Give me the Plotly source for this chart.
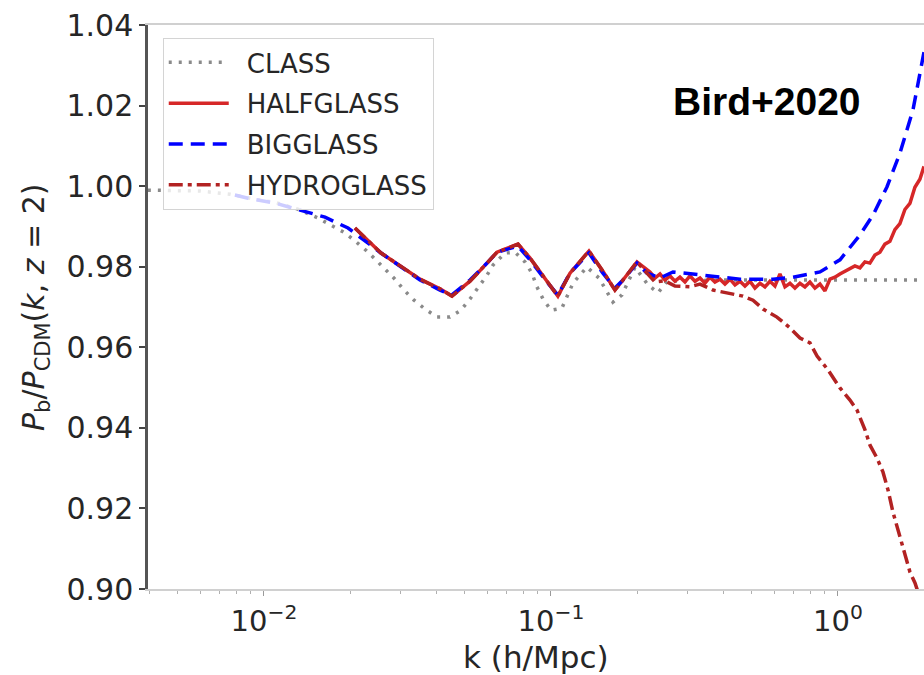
import plotly.graph_objects as go

# ---------------- data ----------------
class_k = [0.00394, 0.00424, 0.00598, 0.00762, 0.00969, 0.01092, 0.01312, 0.01542, 0.01726,
           0.01915, 0.02075, 0.02266, 0.02455, 0.02661, 0.02860, 0.03076, 0.03332, 0.03640,
           0.04008, 0.04446, 0.04855, 0.05222, 0.05568, 0.05988, 0.06283, 0.06918, 0.07494,
           0.08117, 0.08583, 0.08935, 0.09380, 0.1000, 0.1091, 0.1136, 0.1193, 0.1334, 0.1469,
           0.1555, 0.1644, 0.1768, 0.1963, 0.2178, 0.2360, 0.2537, 0.40, 0.80, 1.30, 2.10]
class_v = [0.9990, 0.9990, 0.9988, 0.9980, 0.9965, 0.9960, 0.9943, 0.9921, 0.9903,
           0.9884, 0.9864, 0.9841, 0.9817, 0.9792, 0.9769, 0.9742, 0.9717, 0.9695,
           0.9675, 0.9675, 0.9692, 0.9720, 0.9747, 0.9779, 0.9804, 0.9834, 0.9836,
           0.9812, 0.9784, 0.9750, 0.9720, 0.9692, 0.9697, 0.9727, 0.9759, 0.9799, 0.9772,
           0.9742, 0.9712, 0.9730, 0.9799, 0.9755, 0.9735, 0.9764, 0.9767, 0.9767, 0.9767, 0.9767]

half_k = [0.02075, 0.02558, 0.03497, 0.04105, 0.04518, 0.05222, 0.05988, 0.06486, 0.07678,
          0.08446, 0.09684, 0.1057, 0.1165, 0.1356, 0.1517, 0.1671, 0.1782, 0.1994,
          0.2213, 0.2304, 0.2398, 0.2496, 0.2598, 0.2704, 0.2815, 0.2930, 0.3050, 0.3175,
          0.3305, 0.3440, 0.3581, 0.3727, 0.3880, 0.4039, 0.4204, 0.4376, 0.4555, 0.4741,
          0.4935, 0.5137, 0.5347, 0.5566, 0.5794, 0.6031, 0.6278, 0.6535, 0.6802, 0.7080,
          0.7370, 0.7671, 0.7985, 0.8312, 0.8652, 0.9006, 0.9374, 0.9758, 1.0157, 1.0573,
          1.1005, 1.1455, 1.1924, 1.2412, 1.2920, 1.3449, 1.3999, 1.4572, 1.5168, 1.5789,
          1.6435, 1.7107, 1.7807, 1.8536, 1.9294, 1.994]
half_v = [0.9896, 0.9834, 0.9769, 0.9745, 0.9727, 0.9764, 0.9809, 0.9836, 0.9856,
          0.9822, 0.9764, 0.9727, 0.9784, 0.9839, 0.9789, 0.9742, 0.9767, 0.9812,
          0.9787, 0.9772, 0.9782, 0.9767, 0.9777, 0.9764, 0.9774, 0.9762, 0.9777, 0.9764,
          0.9772, 0.9759, 0.9774, 0.9762, 0.9769, 0.9757, 0.9769, 0.9755, 0.9764, 0.9752,
          0.9764, 0.9747, 0.9759, 0.9750, 0.9764, 0.9752, 0.9782, 0.9750, 0.9759, 0.9747,
          0.9759, 0.9750, 0.9762, 0.9747, 0.9757, 0.9740, 0.9769, 0.9774, 0.9782, 0.9789,
          0.9794, 0.9802, 0.9797, 0.9812, 0.9809, 0.9829, 0.9836, 0.9856, 0.9863, 0.9892,
          0.9907, 0.9942, 0.9957, 0.9997, 1.0017, 1.0049]

big_k = [0.00792, 0.00880, 0.01092, 0.01312, 0.01632, 0.01963, 0.02558, 0.03497, 0.04105,
         0.04518, 0.05222, 0.05988, 0.06486, 0.07678, 0.08446, 0.09684, 0.1057, 0.1165,
         0.1356, 0.1517, 0.1671, 0.1782, 0.1994, 0.2160, 0.2398, 0.2661, 0.3497, 0.4556,
         0.5940, 0.6966, 0.8657, 1.016, 1.193, 1.324, 1.481, 1.644, 1.825, 1.994]
big_v = [0.9978, 0.9970, 0.9958, 0.9941, 0.9923, 0.9896, 0.9834, 0.9767, 0.9742,
         0.9730, 0.9767, 0.9809, 0.9836, 0.9851, 0.9817, 0.9762, 0.9730, 0.9784,
         0.9834, 0.9784, 0.9747, 0.9767, 0.9809, 0.9784, 0.9772, 0.9787, 0.9777, 0.9769,
         0.9769, 0.9774, 0.9787, 0.9817, 0.9879, 0.9928, 0.9998, 1.0082, 1.0189, 1.0333]

hydro_k = [0.02075, 0.02558, 0.03497, 0.04105, 0.04518, 0.05222, 0.05988, 0.06486, 0.07678,
           0.08446, 0.09684, 0.1057, 0.1165, 0.1356, 0.1517, 0.1671, 0.1782, 0.1994,
           0.2160, 0.2304, 0.2495, 0.2705, 0.3050, 0.3305, 0.3668, 0.4104, 0.4667, 0.5056,
           0.5479, 0.6127, 0.6805, 0.7373, 0.7987, 0.8455, 0.9231, 1.016, 1.101, 1.165,
           1.242, 1.293, 1.3677, 1.435, 1.4937, 1.554, 1.6187, 1.671, 1.7254, 1.7817,
           1.855, 1.9152]
hydro_v = [0.9896, 0.9834, 0.9769, 0.9745, 0.9727, 0.9764, 0.9809, 0.9836, 0.9856,
           0.9822, 0.9764, 0.9727, 0.9784, 0.9839, 0.9789, 0.9742, 0.9767, 0.9812,
           0.9784, 0.9762, 0.9765, 0.9752, 0.9750, 0.9757, 0.9742, 0.9735, 0.9727, 0.9717,
           0.9695, 0.9675, 0.9648, 0.9623, 0.9611, 0.9578, 0.9544, 0.9499, 0.9469, 0.9444,
           0.9395, 0.9357, 0.9325, 0.9290, 0.9246, 0.9191, 0.9146, 0.9107, 0.9072, 0.9042,
           0.9015, 0.8985]

series_names = ["CLASS", "HALFGLASS", "BIGGLASS", "HYDROGLASS"]
y_ticks = [0.90, 0.92, 0.94, 0.96, 0.98, 1.00, 1.02, 1.04]
x_ticks = [0.01, 0.1, 1.0]
x_ticktext = ["10<sup>\u22122</sup>", "10<sup>\u22121</sup>", "10<sup>0</sup>"]
x_minor = [m * 10.0 ** e for e in (-3, -2, -1, 0) for m in range(2, 10)]

FONT = "DejaVu Sans"

fig = go.Figure()
styles = [
    dict(color="#8a8a8a", width=3.5, dash="3px,7px"),
    dict(color="#d62728", width=3.5, dash="solid"),
    dict(color="#0000ff", width=3.5, dash="14px,8px"),
    dict(color="#b22222", width=3.5, dash="14px,5px,4px,5px"),
]
data = [(class_k, class_v), (half_k, half_v), (big_k, big_v), (hydro_k, hydro_v)]
for name, (kk, vv), st in zip(series_names, data, styles):
    fig.add_trace(go.Scatter(x=kk, y=vv, mode="lines", name="\u2002" + name, line=st,
                             legendgroup=name, cliponaxis=True))

fig.update_layout(
    width=924, height=675,
    margin=dict(l=148, r=0, t=25, b=86),
    paper_bgcolor="white", plot_bgcolor="white",
    font=dict(family=FONT, color="#262626"),
    showlegend=True,
    legend=dict(
        x=0.019, y=0.977, xanchor="left", yanchor="top",
        bgcolor="rgba(255,255,255,0.8)", bordercolor="#d4d4d4", borderwidth=1,
        font=dict(family=FONT, size=26, color="#262626"),
        itemwidth=60, traceorder="grouped", tracegroupgap=4,
    ),
    xaxis=dict(
        type="log", range=[-2.404, 0.2997],
        tickvals=x_ticks, ticktext=x_ticktext,
        ticks="outside", ticklen=5, tickwidth=1, tickcolor="#9a9a9a",
        tickfont=dict(family=FONT, size=29, color="#262626"),
        showline=True, linecolor="#d0d0d0", linewidth=2, mirror=True,
        showgrid=False, zeroline=False,
        minor=dict(tickvals=x_minor, ticks="outside", ticklen=3, tickcolor="#b0b0b0", showgrid=False),
    ),
    yaxis=dict(
        range=[0.90, 1.04], tickvals=y_ticks, tickformat=".2f",
        ticks="outside", ticklen=6, tickwidth=1.5, tickcolor="#444444",
        tickfont=dict(family=FONT, size=30, color="#262626"),
        showline=True, linecolor="#555555", linewidth=2.5, mirror=False,
        showgrid=False, zeroline=False,
    ),
    annotations=[
        dict(text="<b>Bird+2020</b>", x=0.798, y=0.8635, xref="paper", yref="paper",
             xanchor="center", yanchor="middle", showarrow=False,
             font=dict(family="Liberation Sans", size=39, color="black")),
        dict(text="k (h/Mpc)", x=0.5, y=-0.1206, xref="paper", yref="paper",
             xanchor="center", yanchor="middle", showarrow=False,
             font=dict(family=FONT, size=31, color="#262626")),
        dict(text="<i>P</i><sub>b</sub>/<i>P</i><sub>CDM</sub>(<i>k</i>, <i>z</i> = 2)",
             x=-0.1456, y=0.5, xref="paper", yref="paper", textangle=-90,
             xanchor="center", yanchor="middle", showarrow=False,
             font=dict(family=FONT, size=30, color="#262626")),
    ],
)

fig.write_html("out.html")
